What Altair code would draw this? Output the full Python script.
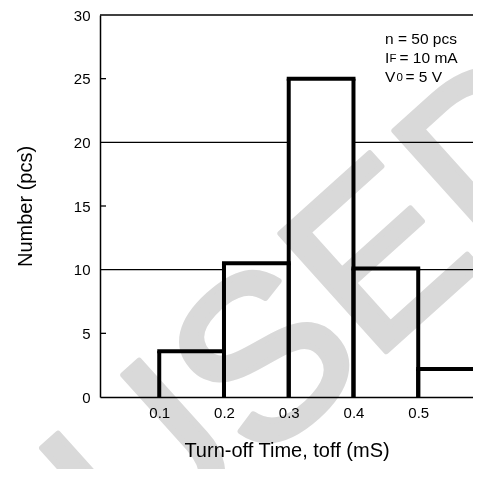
import altair as alt
import pandas as pd

# ---- data ----
bin_start = [0.1, 0.2, 0.3, 0.4, 0.5]
bin_end = [0.2, 0.3, 0.4, 0.5, 0.6]
counts = [3.6, 10.5, 25.0, 10.1, 2.2]
x_tick_values = [0.1, 0.2, 0.3, 0.4, 0.5]
y_tick_values = [0, 5, 10, 15, 20, 25, 30]
grid_values = [10, 20, 30]
inner_tick_values = [5, 15, 25]
x_title = "Turn-off Time, toff (mS)"
y_title = "Number (pcs)"
note_line1 = "n = 50 pcs"
note_line2 = ["I", "F", "= 10 mA"]
note_line3 = ["V", "0", "= 5 V"]
watermark_text = "USED"

FONT = "Liberation Sans"
W, H = 373, 382

bars = pd.DataFrame({"x0": bin_start, "x1": bin_end, "n": counts})
grid = pd.DataFrame({"v": grid_values})
inner = pd.DataFrame({"v": inner_tick_values})
edges = pd.DataFrame({"x": bin_start + bin_end, "n": counts + counts})

xs = alt.Scale(domain=[0.0085, 0.5846], nice=False, zero=False)
ys = alt.Scale(domain=[0, 30], nice=False)

x_axis = alt.Axis(
    values=x_tick_values,
    format=".1f",
    ticks=False,
    grid=False,
    domainColor="black",
    domainWidth=1.5,
    labelFont=FONT,
    labelFontSize=15,
    labelColor="black",
    labelPadding=8,
    title=x_title,
    titleFont=FONT,
    titleFontSize=20,
    titleFontWeight="normal",
    titleColor="black",
    titlePadding=20,
    zindex=1,
)
y_axis = alt.Axis(
    values=y_tick_values,
    ticks=False,
    grid=False,
    domainColor="black",
    domainWidth=1.5,
    labelFont=FONT,
    labelFontSize=15,
    labelColor="black",
    labelPadding=10,
    title=y_title,
    titleFont=FONT,
    titleFontSize=20,
    titleFontWeight="normal",
    titleColor="black",
    titlePadding=38,
    zindex=1,
)

grid_layer = alt.Chart(grid).mark_rule(color="black", strokeWidth=1.3).encode(
    y=alt.Y("v:Q", scale=ys, axis=y_axis),
    x=alt.value(0),
    x2=alt.value(W),
)

fill_layer = alt.Chart(bars).mark_rect(fill="white", strokeWidth=0).encode(
    x=alt.X("x0:Q", scale=xs, axis=x_axis),
    x2="x1:Q",
    y=alt.Y("n:Q", scale=ys, axis=y_axis),
    y2=alt.datum(0),
)

top_layer = alt.Chart(bars).mark_rule(color="black", strokeWidth=4, strokeCap="square").encode(
    x=alt.X("x0:Q", scale=xs, axis=x_axis),
    x2="x1:Q",
    y=alt.Y("n:Q", scale=ys, axis=y_axis),
)

edge_layer = alt.Chart(edges).mark_rule(color="black", strokeWidth=4, strokeCap="butt").encode(
    x=alt.X("x:Q", scale=xs, axis=x_axis),
    y=alt.Y("n:Q", scale=ys, axis=y_axis),
    y2=alt.datum(0),
)

inner_tick_layer = alt.Chart(inner).mark_rule(color="black", strokeWidth=1.3).encode(
    y=alt.Y("v:Q", scale=ys, axis=y_axis),
    x=alt.value(0),
    x2=alt.value(6),
)


def txt(s, px, py, size=15.5):
    return alt.Chart(pd.DataFrame({"t": [s]})).mark_text(
        font=FONT, fontSize=size, color="black", align="left", baseline="middle"
    ).encode(text="t:N", x=alt.value(px), y=alt.value(py))


ox, oy = 100, 14.5
notes = [
    txt(note_line1, 385 - ox, 38 - oy),
    txt(note_line2[0], 385 - ox, 57 - oy),
    txt(note_line2[1], 389.5 - ox, 58 - oy, 11.5),
    txt(note_line2[2], 399.5 - ox, 57 - oy),
    txt(note_line3[0], 385 - ox, 76 - oy),
    txt(note_line3[1], 396.5 - ox, 77 - oy, 11.5),
    txt(note_line3[2], 405.5 - ox, 76 - oy),
]

wm = alt.Chart(pd.DataFrame({"t": [watermark_text]})).mark_text(
    font=FONT,
    fontSize=230,
    fontWeight="normal",
    color="#d9d9d9",
    stroke="#d9d9d9",
    strokeWidth=6,
    strokeJoin="round",
    align="center",
    baseline="middle",
    angle=318,
    blend="multiply",
).encode(text="t:N", x=alt.value(326 - ox), y=alt.value(312 - oy))

chart = alt.layer(
    grid_layer, fill_layer, top_layer, edge_layer, inner_tick_layer, *notes, wm
).properties(
    width=W,
    height=H,
    autosize=alt.AutoSizeParams(type="none"),
    padding={"left": 92, "top": 7, "right": 0, "bottom": 72},
).configure_view(stroke=None)

chart.save("out.html", embed_options={"renderer": "svg", "actions": False})
